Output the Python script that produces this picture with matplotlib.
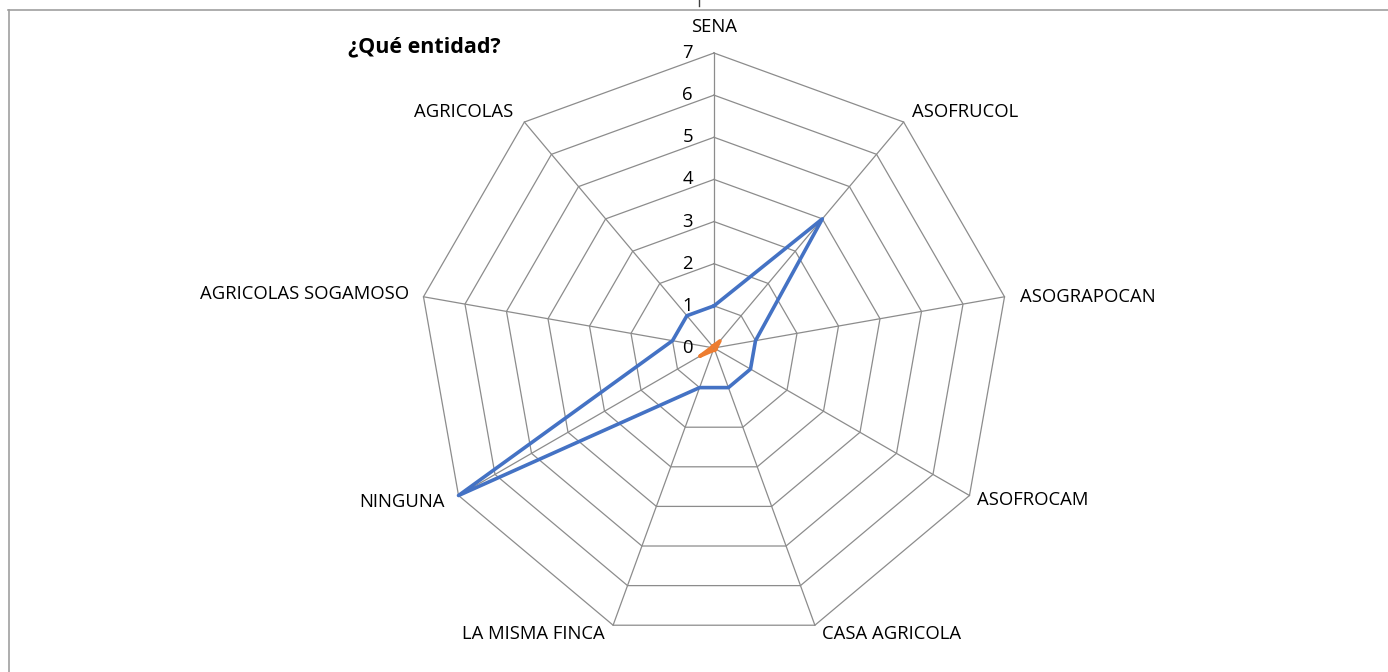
import numpy as np
import matplotlib
matplotlib.use("Agg")
import matplotlib.pyplot as plt
from matplotlib.lines import Line2D

plt.rcParams['font.family'] = ['Open Sans', 'DejaVu Sans']

categories = ["SENA", "ASOFRUCOL", "ASOGRAPOCAN", "ASOFROCAM", "CASA AGRICOLA",
              "LA MISMA FINCA", "NINGUNA", "AGRICOLAS SOGAMOSO", "AGRICOLAS"]
counts = [1, 4, 1, 1, 1, 1, 7, 1, 1]
shares = [0.06, 0.22, 0.06, 0.06, 0.06, 0.06, 0.39, 0.06, 0.06]
ticks = [0, 1, 2, 3, 4, 5, 6, 7]
title = "¿Qué entidad?"

W, H = 1388, 672
fig = plt.figure(figsize=(W / 100, H / 100), dpi=100)
cx, cy, R = 714, 348, 295
ax = fig.add_axes([(cx - R) / W, (H - cy - R) / H, 2 * R / W, 2 * R / H], projection='polar')
ax.set_theta_zero_location('N')
ax.set_theta_direction(-1)
ax.set_ylim(0, ticks[-1])
ax.set_axis_off()

n = len(categories)
theta = np.linspace(0, 2 * np.pi, n, endpoint=False)
theta_c = np.append(theta, theta[0])

grid_col = '#8c8c8c'
for t in ticks[1:]:
    ax.plot(theta_c, [t] * (n + 1), color=grid_col, lw=0.9, clip_on=False, zorder=1)
for th in theta:
    ax.plot([th, th], [0, ticks[-1]], color=grid_col, lw=0.9, clip_on=False, zorder=1)

ax.plot(theta_c, counts + counts[:1], color='#4472C4', lw=2.6, clip_on=False, zorder=3,
        solid_joinstyle='round')
ax.plot(theta_c, shares + shares[:1], color='#ED7D31', lw=2.6, clip_on=False, zorder=4,
        solid_joinstyle='round')

fs = 13.3
# tick labels
for t in ticks:
    ax.annotate(str(t), xy=(0, t), xytext=(-21, 0), textcoords='offset pixels',
                ha='right', va='center', fontsize=fs, color='#000000', annotation_clip=False)

# category labels
offsets = [(0, 26, 'center'), (8, 10, 'left'), (15, 0, 'left'), (8, -5, 'left'),
           (7, -9, 'left'), (-8, -9, 'right'), (-14, -6, 'right'), (-14, 3, 'right'),
           (-11, 10, 'right')]
for th, lab, (dx, dy, ha) in zip(theta, categories, offsets):
    ax.annotate(lab, xy=(th, ticks[-1]), xytext=(dx, dy), textcoords='offset pixels',
                ha=ha, va='center', fontsize=fs, color='#000000', annotation_clip=False)

fig.text(348 / W, 1 - 47 / H, title, ha='left', va='center', fontsize=15.5,
         fontweight='bold', color='#000000')

# chart border
fig.add_artist(Line2D([8.5 / W, 8.5 / W], [1 - 9.5 / H, 0], transform=fig.transFigure,
                      color='#a0a0a0', lw=1.2))
fig.add_artist(Line2D([8 / W, 1], [1 - 9.5 / H, 1 - 9.5 / H], transform=fig.transFigure,
                      color='#a0a0a0', lw=1.2))
fig.add_artist(Line2D([699 / W, 699 / W], [1, 1 - 6 / H], transform=fig.transFigure,
                      color='#404040', lw=1.0))

fig.savefig("out.png", dpi=100)
